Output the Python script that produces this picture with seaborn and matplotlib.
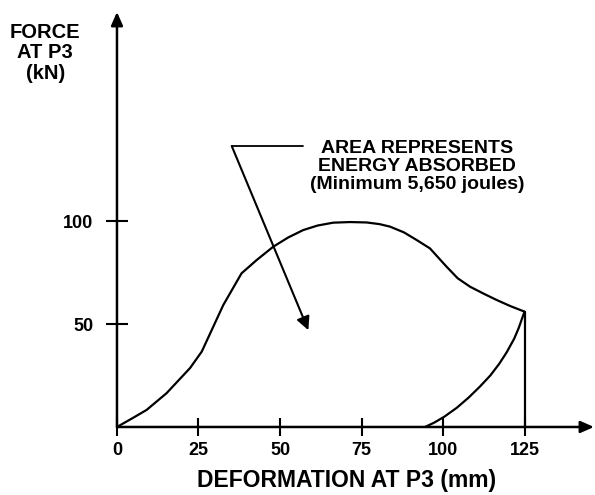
import matplotlib
matplotlib.use('Agg')
import matplotlib.pyplot as plt
import seaborn as sns

# loading curve (deformation mm, force kN)
load_x = [0, 5, 9.1, 15.2, 22.4, 26, 30.5, 32.6, 38.2, 42.8, 47.9, 52.5, 57.1, 61.5, 66.3,
          71.5, 76.6, 80.5, 83.7, 88, 91.9, 96, 101.1, 104.5, 108.3, 112.5, 116.4, 120.5, 125]
load_y = [0, 4.5, 8.3, 16.4, 28.6, 36.6, 52, 59.2, 74.6, 81, 87.5, 92, 95.6, 97.8, 99.2,
          99.5, 99.3, 98.5, 97.3, 94.5, 90.8, 86.7, 77.8, 72.2, 68.1, 64.7, 61.7, 58.8, 56]
# unloading curve
unload_x = [125, 124.2, 123.2, 121.8, 119.5, 117.2, 114.5, 111.3, 107.8, 104.2, 100.4, 97.4, 94.5]
unload_y = [56, 52.5, 48.0, 42.8, 36.2, 30.6, 25.0, 19.6, 14.2, 9.3, 5.0, 2.2, 0]
# drop line at max deformation
drop_x = [125, 125]
drop_y = [0, 56]

x_ticks = [0, 25, 50, 75, 100, 125]
y_ticks = [50, 100]

sns.set_theme(style='white')
plt.rcParams['font.family'] = ['Liberation Sans', 'DejaVu Sans']
plt.rcParams['font.weight'] = 'bold'
plt.rcParams['text.color'] = 'black'
plt.rcParams['xtick.color'] = 'black'
plt.rcParams['ytick.color'] = 'black'
plt.rcParams['axes.labelcolor'] = 'black'

fig = plt.figure(figsize=(5.95, 4.95), dpi=100)
ax = fig.add_axes([0.1966, 0.1374, 0.8017, 0.8384])

line_kw = dict(color='black', linewidth=1.6, sort=False, estimator=None, ax=ax)
sns.lineplot(x=load_x, y=load_y, **line_kw)
sns.lineplot(x=unload_x, y=unload_y, **line_kw)
sns.lineplot(x=drop_x, y=drop_y, **line_kw)

ax.set_xlim(0, 146.3)
ax.set_ylim(0, 201.5)

# axes drawn as arrows
for s in ax.spines.values():
    s.set_visible(False)
arrow_kw = dict(arrowstyle='-|>,head_length=0.5,head_width=0.22', color='black',
                lw=1.8, mutation_scale=16, shrinkA=0, shrinkB=0)
ax.annotate('', xy=(1, 0), xytext=(0, 0), xycoords='axes fraction',
            textcoords='axes fraction', arrowprops=arrow_kw, annotation_clip=False)
ax.annotate('', xy=(0, 1), xytext=(0, 0), xycoords='axes fraction',
            textcoords='axes fraction', arrowprops=arrow_kw, annotation_clip=False)

ax.set_xticks(x_ticks)
ax.set_yticks(y_ticks)
ax.tick_params(axis='x', direction='inout', length=13, width=1.5, pad=4,
               labelsize=13, bottom=True)
ax.tick_params(axis='y', direction='inout', length=16, width=1.5, pad=9,
               labelsize=13, left=True)
for lab in ax.get_xticklabels() + ax.get_yticklabels():
    lab.set_fontweight('bold')

ax.set_xlabel('DEFORMATION AT P3 (mm)', fontsize=16.5, fontweight='bold')
ax.xaxis.label.set_va('center')
ax.xaxis.set_label_coords(0.482, -0.128)
fig.text(0.076, 0.893, 'FORCE\nAT P3\n(kN)', ha='center', va='center',
         fontsize=14.5, fontweight='bold', linespacing=1.12)

# annotation: energy area
ax.text(92, 126.5, 'AREA REPRESENTS\nENERGY ABSORBED\n(Minimum 5,650 joules)',
        ha='center', va='center', fontsize=14, fontweight='bold', linespacing=1.08)
ax.plot([35.2, 57.1], [136.4, 136.4], color='black', linewidth=1.3)
ax.annotate('', xy=(58.7, 47), xytext=(35.2, 136.4),
            arrowprops=dict(arrowstyle='-|>', color='black', lw=1.5,
                            mutation_scale=20, shrinkA=0, shrinkB=0))

fig.savefig('out.png', dpi=100)
